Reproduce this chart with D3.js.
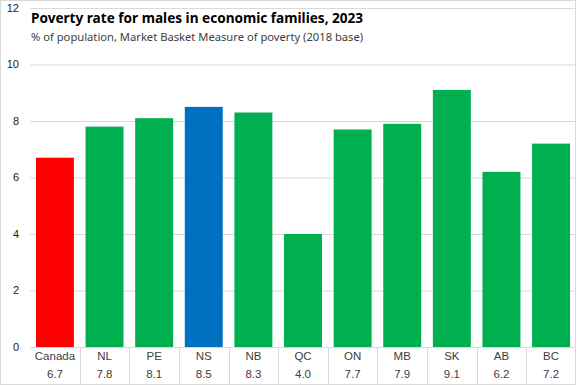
<!DOCTYPE html>
<html>
<head>
<meta charset="utf-8">
<script src="https://cdn.jsdelivr.net/npm/d3@7"></script>
<style>
  body { margin: 0; background: #fff; }
  svg { display: block; }
</style>
</head>
<body>
<svg id="chart"></svg>
<script>
// data
const regions = ["Canada", "NL", "PE", "NS", "NB", "QC", "ON", "MB", "SK", "AB", "BC"];
const rates = [6.7, 7.8, 8.1, 8.5, 8.3, 4.0, 7.7, 7.9, 9.1, 6.2, 7.2];
const yTicks = [0, 2, 4, 6, 8, 10, 12];

const width = 577, height = 385;
const margin = { top: 8, right: 1, bottom: 38, left: 30 };

const svg = d3.select("#chart").attr("width", width).attr("height", height);

const x = d3.scaleBand()
  .domain(regions)
  .range([margin.left, width - margin.right])
  .paddingInner(0.235)
  .paddingOuter(0.12);

const y = d3.scaleLinear()
  .domain([0, 12])
  .range([height - margin.bottom, margin.top]);

function barColor(r) {
  if (r === "Canada") return "#ff0000";
  if (r === "NS") return "#0070c0";
  return "#00b050";
}

// gridlines + y labels
svg.append("g")
  .selectAll("line")
  .data(yTicks)
  .enter().append("line")
  .attr("x1", margin.left)
  .attr("x2", width - margin.right)
  .attr("y1", d => y(d) + 0.5)
  .attr("y2", d => y(d) + 0.5)
  .style("stroke", "#d9d9d9");

svg.append("g")
  .selectAll("text")
  .data(yTicks)
  .enter().append("text")
  .attr("x", 19)
  .attr("y", d => y(d))
  .attr("dy", "0.35em")
  .attr("text-anchor", "end")
  .style("font-family", "Liberation Sans, Arial, sans-serif")
  .style("font-size", "11px")
  .style("fill", "#1a1a1a")
  .text(d => d);

// bars
svg.append("g")
  .selectAll("rect")
  .data(regions)
  .enter().append("rect")
  .attr("x", d => x(d))
  .attr("width", x.bandwidth())
  .attr("y", (d, i) => y(rates[i]))
  .attr("height", (d, i) => y(0) - y(rates[i]))
  .style("fill", d => barColor(d));

// table under the axis
const step = x.step();
const bandStart = d => x(d) - step * x.paddingInner() / 2;

svg.append("g")
  .selectAll("line")
  .data(regions.slice(1))
  .enter().append("line")
  .attr("x1", d => Math.round(bandStart(d)) + 0.5)
  .attr("x2", d => Math.round(bandStart(d)) + 0.5)
  .attr("y1", y(0))
  .attr("y2", height)
  .style("stroke", "#d9d9d9");

const table = svg.append("g")
  .style("font-family", "Liberation Sans, Arial, sans-serif")
  .style("font-size", "11.5px")
  .style("fill", "#404040");

table.selectAll(".cat")
  .data(regions)
  .enter().append("text")
  .attr("class", "cat")
  .attr("x", d => x(d) + x.bandwidth() / 2)
  .attr("y", 360)
  .attr("text-anchor", "middle")
  .text(d => d);

table.selectAll(".val")
  .data(regions)
  .enter().append("text")
  .attr("class", "val")
  .attr("x", d => x(d) + x.bandwidth() / 2)
  .attr("y", 378)
  .attr("text-anchor", "middle")
  .text((d, i) => rates[i].toFixed(1));

// title block
svg.append("rect")
  .attr("x", 30).attr("y", 10)
  .attr("width", 400).attr("height", 36)
  .style("fill", "#fff");

svg.append("text")
  .attr("x", 31)
  .attr("y", 23)
  .style("font-family", "Noto Sans, sans-serif")
  .style("font-size", "13.6px")
  .style("font-weight", "bold")
  .style("fill", "#000")
  .text("Poverty rate for males in economic families, 2023");

svg.append("text")
  .attr("x", 31)
  .attr("y", 41)
  .style("font-family", "Noto Sans, sans-serif")
  .style("font-size", "11.2px")
  .style("fill", "#404040")
  .text("% of population, Market Basket Measure of poverty (2018 base)");

// outer border
svg.append("rect")
  .attr("x", 0.5).attr("y", 0.5)
  .attr("width", width - 2).attr("height", height - 1)
  .style("fill", "none")
  .style("stroke", "#d9d9d9");
</script>
</body>
</html>
